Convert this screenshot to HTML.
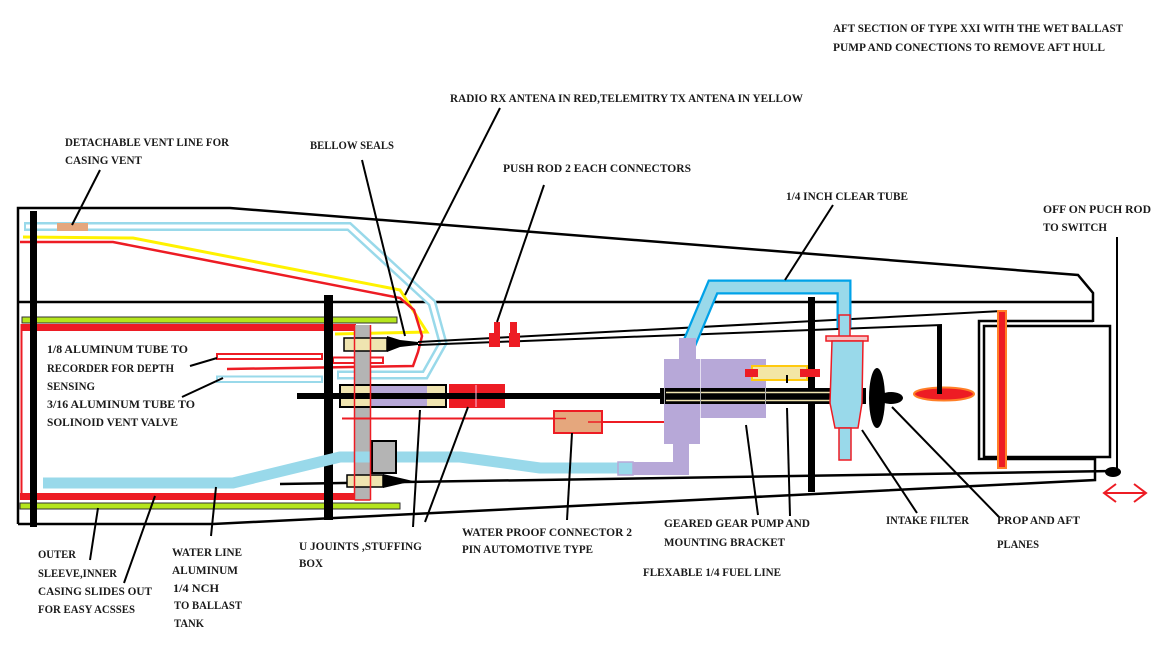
<!DOCTYPE html>
<html><head><meta charset="utf-8">
<style>
html,body{margin:0;padding:0;background:#fff;}
svg{display:block;}
text{font-family:"Liberation Serif",serif;font-weight:bold;font-size:12px;fill:#1a1a1a;}
</style></head><body>
<svg width="1168" height="655" viewBox="0 0 1168 655" xmlns="http://www.w3.org/2000/svg">
<rect width="1168" height="655" fill="#fff"/>

<!-- hull outline -->
<g fill="none" stroke="#000" stroke-width="2.5" stroke-linejoin="miter">
  <polyline points="18,524 18,208 230,208 1078,275 1093,293 1093,322"/>
  <line x1="18" y1="302" x2="1093" y2="302"/>
  <polyline points="18,524 213,524 1095,480 1095,459 979,459 979,321 1093,321"/>
  <rect x="984" y="326" width="126" height="131"/>
  <line x1="280" y1="484" x2="1113" y2="471"/>
</g>

<!-- vent tube (double light blue line) -->
<polyline points="24,226.5 349,226.5 432,303 443,343 425,375 337,375" fill="none" stroke="#99D9EA" stroke-width="9" stroke-linejoin="miter"/>
<polyline points="26,226.5 349,226.5 432,303 443,343 425,375 339,375" fill="none" stroke="#fff" stroke-width="4" stroke-linejoin="miter"/>
<rect x="57" y="223" width="31" height="8" fill="#E5A77D"/>

<!-- small tubes -->
<rect x="217" y="376.5" width="105" height="5.5" fill="#fff" stroke="#99D9EA" stroke-width="2"/>
<rect x="217" y="354" width="105" height="5" fill="#fff" stroke="#ED1C24" stroke-width="2"/>
<rect x="333" y="357.5" width="50" height="5.5" fill="#fff" stroke="#ED1C24" stroke-width="2"/>

<!-- antenna wires -->
<polyline points="23,237 133,238 400,290 427,332 335,334" fill="none" stroke="#FFF200" stroke-width="3"/>
<polyline points="20,242 113,242 400,298 414,310 422,336 418,352 413,366 227,369" fill="none" stroke="#ED1C24" stroke-width="2.5"/>

<!-- green / red frame -->
<rect x="22" y="317" width="375" height="6" fill="#B5E61D" stroke="#333" stroke-width="1"/>
<rect x="20" y="503" width="380" height="6" fill="#B5E61D" stroke="#333" stroke-width="1"/>
<rect x="21" y="324" width="335" height="7" fill="#ED1C24"/>
<rect x="20" y="493" width="336" height="7" fill="#ED1C24"/>
<line x1="21.5" y1="324" x2="21.5" y2="500" stroke="#ED1C24" stroke-width="2"/>

<!-- grey bar -->
<rect x="355" y="325" width="15" height="175" fill="#B4B4B4"/>

<!-- black bulkheads -->
<rect x="30" y="211" width="7" height="316" fill="#000"/>
<rect x="324" y="295" width="9" height="225" fill="#000"/>
<rect x="808" y="297" width="7" height="195" fill="#000"/>

<!-- push rod lines -->
<line x1="418" y1="342" x2="1002" y2="311" stroke="#000" stroke-width="2"/>
<line x1="418" y1="345" x2="942" y2="325" stroke="#000" stroke-width="2"/>
<rect x="937" y="325" width="5" height="69" fill="#000"/>

<!-- push rod connectors -->
<path d="M494,322 h6 v25 h-11 v-14 h5 z" fill="#ED1C24"/>
<path d="M510,322 h7 v11 h3 v14 h-11 v-14 h1 z" fill="#ED1C24"/>

<!-- main shaft -->
<rect x="297" y="393" width="365" height="6" fill="#000"/>

<!-- stuffing box -->
<rect x="340" y="385" width="106" height="22" fill="#EFE4B0" stroke="#000" stroke-width="2"/>
<rect x="370" y="386" width="57" height="20" fill="#B7A8D8"/>
<rect x="341" y="393" width="104" height="6" fill="#000"/>

<!-- coupling -->
<rect x="449" y="384" width="56" height="24" fill="#ED1C24"/>
<rect x="449" y="393" width="56" height="6" fill="#000"/>
<line x1="476" y1="385" x2="476" y2="407" stroke="#fbd" stroke-width="1"/>

<!-- upper bellow -->
<rect x="344" y="338" width="43" height="13" fill="#EFE4B0" stroke="#000" stroke-width="1.5"/>
<polygon points="387,336 400,340 418,342 418,345 400,347 387,352" fill="#000"/>

<!-- water line -->
<polyline points="43,483 233,483 340,457 460,457 540,468 620,468" fill="none" stroke="#99D9EA" stroke-width="11" stroke-linejoin="round"/>
<rect x="618" y="462" width="15" height="13" fill="#99D9EA" stroke="#B7A8D8" stroke-width="1.5"/>

<!-- grey box & lower bellow -->
<rect x="372" y="441" width="24" height="32" fill="#B4B4B4" stroke="#000" stroke-width="2"/>
<rect x="347" y="475" width="36" height="12" fill="#EFE4B0" stroke="#000" stroke-width="1.5"/>
<polygon points="383,474 413,481 383,488" fill="#000"/>

<!-- grey bar red outline -->
<g stroke="#ED1C24" stroke-width="1.5" fill="none">
  <line x1="354.5" y1="325" x2="354.5" y2="500"/>
  <line x1="370.5" y1="325" x2="370.5" y2="500"/>
  <line x1="354.5" y1="500" x2="370.5" y2="500"/>
</g>

<!-- red wire to connector -->
<line x1="342" y1="418.5" x2="560" y2="418.5" stroke="#ED1C24" stroke-width="2"/>
<line x1="588" y1="422" x2="665" y2="422" stroke="#ED1C24" stroke-width="2"/>
<rect x="554" y="411" width="48" height="22" fill="#E5A77D" stroke="#ED1C24" stroke-width="2"/>
<line x1="554" y1="418.5" x2="566" y2="418.5" stroke="#ED1C24" stroke-width="1.5"/>
<line x1="588" y1="422" x2="602" y2="422" stroke="#ED1C24" stroke-width="1.5"/>

<!-- clear tube -->
<polyline points="689,344 713,287 844,287 844,328" fill="none" stroke="#00A2E8" stroke-width="15" stroke-linejoin="miter"/>
<polyline points="689,344 713,287 844,287 844,330" fill="none" stroke="#99D9EA" stroke-width="10.5" stroke-linejoin="miter"/>

<!-- pump -->
<g fill="#B7A8D8">
  <rect x="679" y="338" width="17" height="22"/>
  <rect x="664" y="359" width="36" height="85"/>
  <rect x="700" y="359" width="66" height="59"/>
  <rect x="673" y="443" width="16" height="32"/>
  <rect x="633" y="462" width="56" height="13"/>
</g>
<line x1="700.5" y1="359" x2="700.5" y2="418" stroke="#e6e0f2" stroke-width="1"/>
<rect x="660" y="388" width="206" height="16" fill="#000"/>
<line x1="666" y1="392.5" x2="862" y2="392.5" stroke="#EFE4B0" stroke-width="1.5"/>
<line x1="666" y1="400.5" x2="862" y2="400.5" stroke="#EFE4B0" stroke-width="1.5"/>
<g stroke="#aaa" stroke-width="1">
  <line x1="664.5" y1="388" x2="664.5" y2="404"/>
  <line x1="700.5" y1="388" x2="700.5" y2="404"/>
  <line x1="765.5" y1="388" x2="765.5" y2="404"/>
</g>

<!-- yellow cylinder -->
<rect x="752" y="366" width="55" height="14" fill="#F3E6A6" stroke="#FFC90E" stroke-width="2"/>
<rect x="745" y="369" width="13" height="8" fill="#ED1C24"/>
<rect x="800" y="369" width="20" height="8" fill="#ED1C24"/>
<line x1="787" y1="375" x2="787" y2="383" stroke="#000" stroke-width="2"/>

<!-- filter -->
<rect x="839" y="315" width="11" height="22" fill="#99D9EA" stroke="#ED1C24" stroke-width="1.5"/>
<rect x="826" y="336" width="42" height="5" fill="#f4c6c6" stroke="#ED1C24" stroke-width="1.5"/>
<polygon points="832,341 863,341 862,403 858,428 835,428 830,403" fill="#99D9EA" stroke="#ED1C24" stroke-width="1.5"/>
<rect x="839" y="428" width="12" height="32" fill="#99D9EA" stroke="#ED1C24" stroke-width="1.5"/>

<!-- prop -->
<ellipse cx="877" cy="398" rx="8" ry="30" fill="#000"/>
<ellipse cx="891" cy="398" rx="12" ry="6" fill="#000"/>

<!-- aft plane -->
<ellipse cx="944" cy="394" rx="30" ry="6.5" fill="#ED1C24" stroke="#FF7F27" stroke-width="2"/>
<rect x="937" y="325" width="5" height="69" fill="#000"/>

<!-- orange bar -->
<rect x="998" y="311" width="8" height="157" fill="#ED1C24" stroke="#FF7F27" stroke-width="2"/>

<!-- switch rod -->
<line x1="1117" y1="237" x2="1117" y2="470" stroke="#000" stroke-width="2"/>
<ellipse cx="1113" cy="472" rx="8" ry="5" fill="#000"/>
<g stroke="#ED1C24" stroke-width="2" fill="none">
  <line x1="1105" y1="493" x2="1145" y2="493"/>
  <polyline points="1116,484 1104,493 1116,502"/>
  <polyline points="1134,484 1146,493 1134,502"/>
</g>

<!-- leader lines -->
<g stroke="#000" stroke-width="2" fill="none">
  <line x1="100" y1="170" x2="72" y2="225"/>
  <line x1="362" y1="160" x2="405" y2="336"/>
  <line x1="500" y1="108" x2="405" y2="295"/>
  <line x1="544" y1="185" x2="497" y2="322"/>
  <line x1="833" y1="205" x2="785" y2="280"/>
  <line x1="190" y1="366" x2="217" y2="358"/>
  <line x1="182" y1="397" x2="223" y2="378"/>
  <line x1="90" y1="560" x2="98" y2="508"/>
  <line x1="124" y1="583" x2="155" y2="496"/>
  <line x1="211" y1="536" x2="216" y2="487"/>
  <line x1="413" y1="527" x2="420" y2="410"/>
  <line x1="425" y1="522" x2="468" y2="407"/>
  <line x1="567" y1="520" x2="572" y2="433"/>
  <line x1="758" y1="515" x2="746" y2="425"/>
  <line x1="790" y1="516" x2="787" y2="408"/>
  <line x1="862" y1="430" x2="917" y2="513"/>
  <line x1="892" y1="407" x2="1000" y2="518"/>
</g>

<!-- labels -->
<text x="833" y="32" textLength="290" lengthAdjust="spacingAndGlyphs">AFT SECTION OF TYPE XXI WITH THE WET BALLAST</text>
<text x="833" y="51" textLength="272" lengthAdjust="spacingAndGlyphs">PUMP AND CONECTIONS TO REMOVE AFT HULL</text>
<text x="450" y="102" textLength="353" lengthAdjust="spacingAndGlyphs">RADIO RX ANTENA IN RED,TELEMITRY TX ANTENA IN YELLOW</text>
<text x="65" y="146" textLength="164" lengthAdjust="spacingAndGlyphs">DETACHABLE VENT LINE FOR</text>
<text x="65" y="164" textLength="77" lengthAdjust="spacingAndGlyphs">CASING VENT</text>
<text x="310" y="149" textLength="84" lengthAdjust="spacingAndGlyphs">BELLOW SEALS</text>
<text x="503" y="172" textLength="188" lengthAdjust="spacingAndGlyphs">PUSH ROD 2 EACH CONNECTORS</text>
<text x="786" y="200" textLength="122" lengthAdjust="spacingAndGlyphs">1/4 INCH CLEAR TUBE</text>
<text x="1043" y="213" textLength="108" lengthAdjust="spacingAndGlyphs">OFF ON PUCH ROD</text>
<text x="1043" y="231" textLength="64" lengthAdjust="spacingAndGlyphs">TO SWITCH</text>
<text x="47" y="353" textLength="141" lengthAdjust="spacingAndGlyphs">1/8 ALUMINUM TUBE TO</text>
<text x="47" y="372" textLength="127" lengthAdjust="spacingAndGlyphs">RECORDER FOR DEPTH</text>
<text x="47" y="390" textLength="48" lengthAdjust="spacingAndGlyphs">SENSING</text>
<text x="47" y="408" textLength="148" lengthAdjust="spacingAndGlyphs">3/16 ALUMINUM TUBE TO</text>
<text x="47" y="426" textLength="131" lengthAdjust="spacingAndGlyphs">SOLINOID VENT VALVE</text>
<text x="38" y="558" textLength="38" lengthAdjust="spacingAndGlyphs">OUTER</text>
<text x="38" y="577" textLength="79" lengthAdjust="spacingAndGlyphs">SLEEVE,INNER</text>
<text x="38" y="595" textLength="114" lengthAdjust="spacingAndGlyphs">CASING SLIDES OUT</text>
<text x="38" y="613" textLength="97" lengthAdjust="spacingAndGlyphs">FOR EASY ACSSES</text>
<text x="172" y="556" textLength="70" lengthAdjust="spacingAndGlyphs">WATER LINE</text>
<text x="172" y="574" textLength="66" lengthAdjust="spacingAndGlyphs">ALUMINUM</text>
<text x="173" y="592" textLength="46" lengthAdjust="spacingAndGlyphs">1/4 NCH</text>
<text x="174" y="609" textLength="68" lengthAdjust="spacingAndGlyphs">TO BALLAST</text>
<text x="174" y="627" textLength="30" lengthAdjust="spacingAndGlyphs">TANK</text>
<text x="299" y="550" textLength="123" lengthAdjust="spacingAndGlyphs">U JOUINTS ,STUFFING</text>
<text x="299" y="567" textLength="24" lengthAdjust="spacingAndGlyphs">BOX</text>
<text x="462" y="536" textLength="170" lengthAdjust="spacingAndGlyphs">WATER PROOF CONNECTOR 2</text>
<text x="462" y="553" textLength="131" lengthAdjust="spacingAndGlyphs">PIN AUTOMOTIVE TYPE</text>
<text x="664" y="527" textLength="146" lengthAdjust="spacingAndGlyphs">GEARED GEAR PUMP AND</text>
<text x="664" y="546" textLength="121" lengthAdjust="spacingAndGlyphs">MOUNTING BRACKET</text>
<text x="643" y="576" textLength="138" lengthAdjust="spacingAndGlyphs">FLEXABLE 1/4 FUEL LINE</text>
<text x="886" y="524" textLength="83" lengthAdjust="spacingAndGlyphs">INTAKE FILTER</text>
<text x="997" y="524" textLength="83" lengthAdjust="spacingAndGlyphs">PROP AND AFT</text>
<text x="997" y="548" textLength="42" lengthAdjust="spacingAndGlyphs">PLANES</text>
</svg>
</body></html>
